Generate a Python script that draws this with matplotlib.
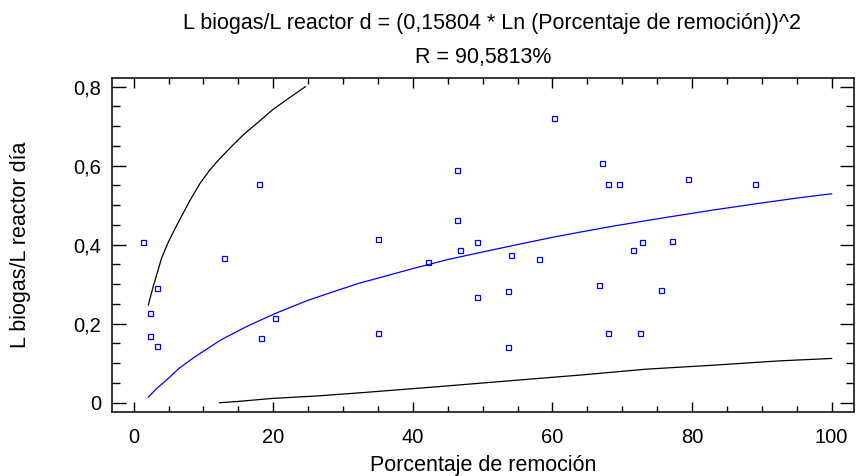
import matplotlib
matplotlib.use("Agg")
import matplotlib.pyplot as plt
from matplotlib.ticker import MultipleLocator, FuncFormatter

plt.rcParams['font.family'] = ['Liberation Sans', 'DejaVu Sans']

# Observed data points
obs_x = [1.4, 3.4, 2.4, 2.4, 3.4, 12.9, 18.0, 18.3, 20.3,
         35.0, 35.0, 42.2, 46.3, 46.3, 46.8, 49.2, 49.2, 53.6, 53.6, 54.0, 58.1, 60.2,
         67.1, 68.0, 69.5, 66.6, 67.9, 72.6, 71.5, 72.8, 77.1, 75.6, 79.4, 89.0]
obs_y = [0.408, 0.290, 0.226, 0.169, 0.144, 0.366, 0.553, 0.164, 0.214,
         0.414, 0.177, 0.356, 0.589, 0.463, 0.386, 0.408, 0.268, 0.282, 0.142, 0.375, 0.364, 0.722,
         0.608, 0.553, 0.553, 0.298, 0.177, 0.177, 0.386, 0.408, 0.410, 0.285, 0.566, 0.553]

# Fitted curve
fit_x = [2.1, 3.3, 4.7, 6.5, 8.6, 12.4, 16.2, 20.3, 24.8, 28.6, 32.4, 34.3, 40.1, 44.9, 50.1,
         54.9, 60.1, 64.0, 68.7, 75.9, 83.1, 89.3, 95.0, 100.0]
fit_y = [0.014, 0.036, 0.057, 0.087, 0.114, 0.158, 0.193, 0.226, 0.258, 0.281, 0.303, 0.312,
         0.340, 0.362, 0.382, 0.400, 0.419, 0.432, 0.447, 0.468, 0.488, 0.504, 0.518, 0.529]

# Upper prediction limit
up_x = [2.1, 2.8, 4.0, 5.0, 6.2, 8.1, 9.5, 10.9, 12.4, 14.1, 15.7, 17.9, 20.0, 22.4, 24.6]
up_y = [0.247, 0.294, 0.366, 0.408, 0.450, 0.513, 0.555, 0.589, 0.619, 0.650, 0.678, 0.711,
        0.743, 0.773, 0.800]

# Lower prediction limit
lo_x = [12.3, 14.8, 20.0, 26.2, 32.4, 43.9, 53.5, 64.0, 73.5, 83.1, 92.6, 100.0]
lo_y = [0.0, 0.003, 0.011, 0.017, 0.025, 0.041, 0.055, 0.070, 0.085, 0.095, 0.106, 0.112]

title_lines = ["L biogas/L reactor d = (0,15804 * Ln (Porcentaje de remoción))^2",
               "R = 90,5813%"]
x_label = "Porcentaje de remoción"
y_label = "L biogas/L reactor día"

W, H = 856, 476
L, R, T, B = 112, 854, 77.7, 412.3

fig = plt.figure(figsize=(W / 100, H / 100), dpi=100)
ax = fig.add_axes([L / W, 1 - B / H, (R - L) / W, (B - T) / H])

ax.plot(up_x, up_y, color='black', lw=0.9)
ax.plot(lo_x, lo_y, color='black', lw=0.9)
ax.plot(fit_x, fit_y, color='#0000ff', lw=0.9)
ax.plot(obs_x, obs_y, linestyle='none', marker='s', ms=3.6, mfc='none',
        mec='#0000ff', mew=0.9)

ax.set_xlim(-3.1, 103.2)
ax.set_ylim(-0.0243, 0.8228)

ax.xaxis.set_major_locator(MultipleLocator(20))
ax.xaxis.set_minor_locator(MultipleLocator(5))
ax.yaxis.set_major_locator(MultipleLocator(0.2))
ax.yaxis.set_minor_locator(MultipleLocator(0.05))


def yfmt(v, pos):
    s = ('%.1f' % v).replace('.', ',')
    if s in ('0,0', '-0,0'):
        s = '0'
    return s


ax.yaxis.set_major_formatter(FuncFormatter(yfmt))
ax.xaxis.set_major_formatter(FuncFormatter(lambda v, p: '%d' % round(v)))

ax.tick_params(axis='both', which='both', direction='in', top=True, right=True,
               labelsize=14.5, colors='black')
ax.tick_params(axis='x', which='major', length=7, width=1.0, pad=11)
ax.tick_params(axis='x', which='minor', length=4.5, width=1.0)
ax.tick_params(axis='y', which='major', length=10, width=1.0, pad=8)
ax.tick_params(axis='y', which='minor', length=5.5, width=1.0)

for s in ax.spines.values():
    s.set_linewidth(1.1)

ax.set_xlabel(x_label, fontsize=15.5, va='center')
ax.xaxis.set_label_coords(0.5, (B - 465) / (B - T))
ax.set_ylabel(y_label, fontsize=15.5, va='center')
ax.yaxis.set_label_coords((21 - L) / (R - L), (B - 245) / (B - T))

cx = (L + R) / 2 / W
fig.text(cx + 9 / W, 1 - 29 / H, title_lines[0], ha='center', va='baseline', fontsize=15.5)
fig.text(cx, 1 - 63 / H, title_lines[1], ha='center', va='baseline', fontsize=15.5)

fig.savefig('out.png', dpi=100)
